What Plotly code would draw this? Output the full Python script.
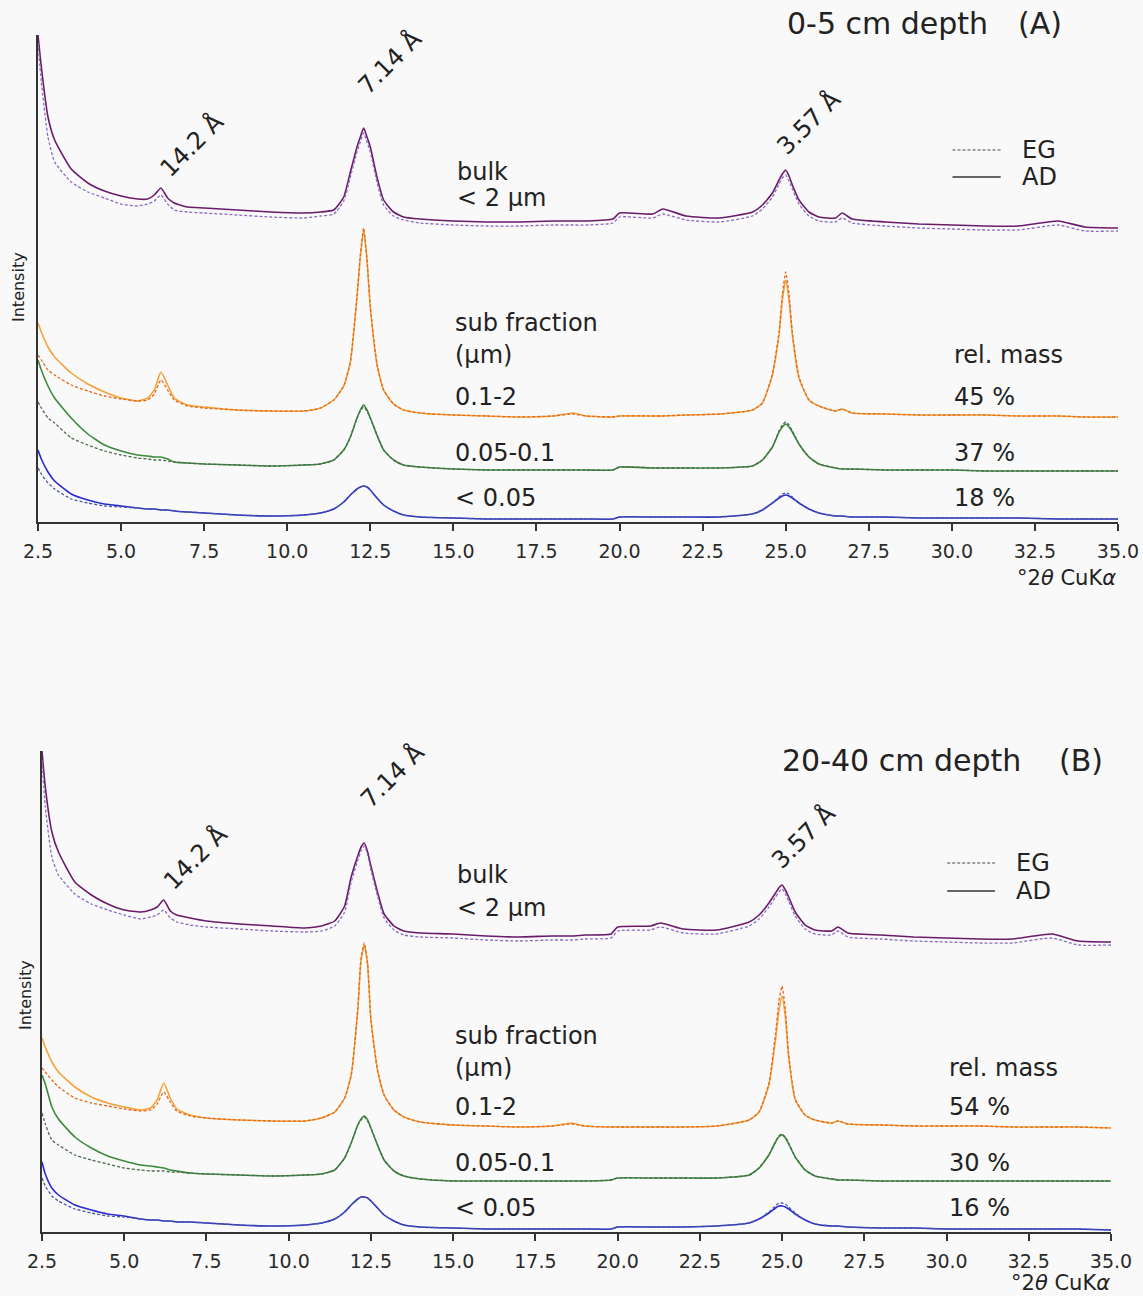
import plotly.graph_objects as go

# ---------------- data ----------------
theta = [2.5, 2.6, 2.8, 3.0, 3.5, 4.0, 4.5, 5.0, 5.5, 5.8,
         6.0, 6.2, 6.4, 6.6, 7.0, 7.5, 8.5, 9.5, 10.5, 11.0,
         11.4, 11.7, 11.9, 12.1, 12.2, 12.3, 12.4, 12.5, 12.7, 12.9,
         13.2, 13.5, 14.0, 15.0, 16.0, 17.0, 18.0, 18.6, 19.0, 19.8,
         20.0, 21.0, 21.3, 22.0, 23.0, 24.0, 24.3, 24.6, 24.8, 24.9,
         25.0, 25.1, 25.2, 25.4, 25.7, 26.0, 26.5, 26.7, 27.0, 28.0,
         29.0, 30.0, 31.0, 32.0, 33.2, 34.0, 35.0]

# Panel A (0-5 cm depth), intensities in arbitrary units (offset stacked)
A_bulk_AD = [487, 455, 405, 382, 353, 339, 331, 326, 323, 323,
             327, 334, 324, 319, 315, 314, 312, 310, 309, 310,
             312, 325, 350, 375, 385, 394, 385, 375, 345, 322,
             310, 305, 303, 301, 300, 300, 301, 301, 301, 303,
             309, 308, 313, 306, 304, 310, 317, 329, 342, 348,
             352, 346, 337, 322, 310, 305, 304, 309, 303, 300,
             298, 297, 296, 296, 301, 295, 294]
A_bulk_EG = [479, 440, 385, 360, 340, 330, 324, 318, 316, 318,
             321, 327, 318, 312, 310, 309, 307, 305, 304, 306,
             308, 321, 345, 370, 380, 389, 380, 370, 340, 317,
             306, 302, 299, 297, 296, 296, 297, 297, 297, 299,
             305, 304, 308, 302, 300, 306, 313, 325, 338, 344,
             347, 341, 333, 318, 306, 301, 300, 304, 299, 296,
             294, 293, 292, 292, 297, 291, 291]
A_or_AD = [199, 190, 175, 165, 149, 138, 130, 124, 121, 124,
           132, 150, 137, 124, 117, 115, 112, 111, 111, 114,
           122, 136, 160, 225, 265, 292, 262, 215, 158, 132,
           118, 112, 109, 107, 106, 105, 106, 109, 106, 105,
           106, 106, 106, 107, 108, 112, 119, 147, 187, 222,
           242, 222, 187, 144, 122, 116, 111, 113, 109, 108,
           107, 107, 107, 106, 106, 105, 105]
A_or_EG = [167, 162, 152, 147, 137, 131, 126, 123, 121, 122,
           128, 142, 132, 122, 116, 114, 112, 111, 111, 114,
           122, 136, 160, 226, 267, 294, 263, 215, 158, 132,
           118, 112, 109, 107, 106, 105, 106, 108, 106, 105,
           106, 106, 106, 107, 108, 112, 119, 148, 190, 228,
           250, 228, 190, 145, 122, 116, 111, 113, 109, 108,
           107, 107, 107, 106, 106, 105, 105]
A_gr_AD = [162, 152, 136, 124, 104, 88, 77, 71, 67, 66,
           65, 65, 63, 60, 59, 58, 57, 56, 57, 58,
           62, 72, 85, 104, 112, 117, 112, 104, 87, 72,
           62, 57, 55, 53, 52, 52, 52, 52, 52, 52,
           55, 54, 54, 54, 54, 56, 62, 75, 90, 95,
           98, 95, 90, 78, 65, 58, 54, 53, 53, 52,
           52, 52, 51, 51, 51, 51, 51]
A_gr_EG = [120, 114, 104, 99, 84, 77, 71, 67, 64, 63,
           62, 62, 61, 60, 59, 58, 57, 56, 57, 58,
           62, 72, 85, 104, 111, 115, 111, 104, 87, 72,
           62, 57, 55, 53, 52, 52, 52, 52, 52, 52,
           55, 54, 54, 54, 54, 56, 62, 75, 91, 97,
           100, 97, 91, 78, 65, 58, 54, 53, 53, 52,
           52, 52, 51, 51, 51, 51, 51]
A_bl_AD = [72, 63, 50, 41, 28, 22, 18, 16, 14, 13,
           13, 12, 12, 11, 10, 9, 7, 6, 7, 9,
           13, 20, 27, 33, 35, 36, 35, 32, 24, 17,
           11, 7, 5, 4, 3, 3, 3, 3, 3, 3,
           5, 5, 5, 5, 5, 8, 12, 19, 24, 26,
           27, 26, 24, 19, 13, 9, 6, 6, 5, 5,
           4, 4, 4, 4, 3, 3, 3]
A_bl_EG = [54, 48, 39, 33, 23, 19, 16, 15, 14, 13,
           13, 12, 12, 11, 10, 9, 7, 6, 7, 9,
           13, 20, 27, 33, 35, 36, 35, 32, 24, 17,
           11, 7, 5, 4, 3, 3, 3, 3, 3, 3,
           5, 5, 5, 5, 5, 8, 12, 19, 25, 28,
           29, 28, 25, 19, 13, 9, 6, 6, 5, 5,
           4, 4, 4, 4, 3, 3, 3]

# Panel B (20-40 cm depth)
B_bulk_AD = [481, 445, 400, 380, 350, 337, 328, 322, 320, 322,
             325, 332, 321, 317, 314, 311, 308, 306, 304, 306,
             311, 326, 355, 376, 385, 389, 380, 366, 340, 318,
             306, 301, 299, 298, 296, 295, 296, 296, 297, 298,
             305, 306, 309, 303, 302, 310, 317, 329, 339, 344,
             347, 342, 335, 320, 307, 302, 301, 305, 299, 297,
             295, 294, 293, 293, 298, 291, 290]
B_bulk_EG = [472, 425, 375, 357, 338, 328, 322, 317, 313, 315,
             317, 322, 314, 310, 307, 305, 303, 301, 300, 301,
             306, 320, 350, 372, 381, 386, 377, 362, 336, 314,
             302, 297, 295, 294, 292, 291, 292, 292, 293, 294,
             301, 302, 305, 299, 298, 306, 313, 325, 335, 340,
             343, 338, 331, 316, 303, 298, 297, 301, 295, 293,
             291, 290, 289, 289, 294, 287, 287]
B_or_AD = [194, 185, 170, 160, 145, 135, 129, 125, 122, 124,
           132, 149, 134, 123, 117, 114, 112, 111, 111, 114,
           120, 134, 157, 222, 272, 287, 267, 212, 162, 137,
           122, 115, 110, 107, 106, 105, 106, 109, 106, 105,
           105, 105, 105, 105, 106, 112, 120, 147, 192, 220,
           236, 215, 175, 132, 117, 112, 109, 111, 108, 107,
           106, 106, 106, 105, 105, 105, 104]
B_or_EG = [164, 160, 152, 145, 134, 129, 126, 123, 121, 122,
           128, 140, 130, 121, 116, 114, 112, 111, 111, 114,
           120, 134, 157, 223, 274, 289, 268, 212, 162, 137,
           122, 115, 110, 107, 106, 105, 106, 108, 106, 105,
           105, 105, 105, 105, 106, 112, 120, 149, 198, 230,
           246, 222, 178, 133, 117, 112, 109, 111, 108, 107,
           106, 106, 106, 105, 105, 105, 104]
B_gr_AD = [157, 148, 125, 113, 95, 84, 76, 71, 67, 66,
           65, 64, 62, 61, 59, 58, 57, 56, 57, 58,
           62, 74, 89, 107, 113, 116, 112, 104, 87, 72,
           61, 56, 53, 51, 51, 51, 51, 51, 51, 52,
           54, 54, 54, 54, 54, 57, 64, 77, 90, 95,
           97, 94, 88, 75, 62, 56, 53, 52, 52, 51,
           51, 51, 51, 51, 51, 51, 51]
B_gr_EG = [119, 108, 92, 87, 77, 72, 68, 64, 62, 61,
           61, 61, 60, 60, 59, 58, 57, 56, 57, 58,
           62, 74, 89, 107, 112, 115, 111, 104, 87, 72,
           61, 56, 53, 51, 51, 51, 51, 51, 51, 52,
           54, 54, 54, 54, 54, 57, 64, 77, 90, 96,
           98, 95, 89, 75, 62, 56, 53, 52, 52, 51,
           51, 51, 51, 51, 51, 51, 51]
B_bl_AD = [70, 58, 44, 37, 27, 22, 18, 16, 13, 12,
           12, 11, 11, 10, 10, 9, 7, 6, 7, 9,
           13, 20, 27, 33, 35, 35, 34, 31, 24, 17,
           11, 7, 5, 4, 3, 3, 3, 3, 3, 3,
           5, 5, 5, 5, 6, 9, 13, 19, 24, 26,
           26, 25, 23, 18, 12, 8, 6, 6, 5, 4,
           4, 3, 3, 3, 3, 3, 2]
B_bl_EG = [54, 46, 36, 31, 23, 19, 16, 15, 13, 12,
           12, 11, 11, 10, 10, 9, 7, 6, 7, 9,
           13, 20, 27, 33, 35, 35, 34, 31, 24, 17,
           11, 7, 5, 4, 3, 3, 3, 3, 3, 3,
           5, 5, 5, 5, 6, 9, 13, 20, 26, 29,
           29, 28, 25, 19, 12, 8, 6, 6, 5, 4,
           4, 3, 3, 3, 3, 3, 2]

tick_vals = [2.5, 5.0, 7.5, 10.0, 12.5, 15.0, 17.5, 20.0, 22.5, 25.0, 27.5, 30.0, 32.5, 35.0]
tick_text = ["2.5", "5.0", "7.5", "10.0", "12.5", "15.0", "17.5", "20.0",
             "22.5", "25.0", "27.5", "30.0", "32.5", "35.0"]

fractions = ["0.1-2", "0.05-0.1", "< 0.05"]
mass_A = ["45 %", "37 %", "18 %"]
mass_B = ["54 %", "30 %", "16 %"]

# ---------------- style ----------------
W, H = 1143, 1296
BG = "#f9f9f9"
FONT = "DejaVu Sans"
TXT = "#222222"
AX = "#333333"
COL = {
    "bulk": ("#6a1b6a", "#8c6cc0"),
    "or": ("#f6a23a", "#e06a20"),
    "gr": ("#3c8a3c", "#4c6c4c"),
    "bl": ("#2a2ad2", "#4a5a9a"),
}

fig = go.Figure()


def add_pair(xa, ya, ad, eg, key):
    c_ad, c_eg = COL[key]
    fig.add_trace(go.Scatter(x=theta, y=ad, mode="lines", xaxis=xa, yaxis=ya,
                             line=dict(color=c_ad, width=1.6, shape="spline", smoothing=0.5),
                             showlegend=False, hoverinfo="skip"))
    fig.add_trace(go.Scatter(x=theta, y=eg, mode="lines", xaxis=xa, yaxis=ya,
                             line=dict(color=c_eg, width=1.3, dash="3px,2px",
                                       shape="spline", smoothing=0.5),
                             showlegend=False, hoverinfo="skip"))


add_pair("x", "y", A_bulk_AD, A_bulk_EG, "bulk")
add_pair("x", "y", A_or_AD, A_or_EG, "or")
add_pair("x", "y", A_gr_AD, A_gr_EG, "gr")
add_pair("x", "y", A_bl_AD, A_bl_EG, "bl")
add_pair("x2", "y2", B_bulk_AD, B_bulk_EG, "bulk")
add_pair("x2", "y2", B_or_AD, B_or_EG, "or")
add_pair("x2", "y2", B_gr_AD, B_gr_EG, "gr")
add_pair("x2", "y2", B_bl_AD, B_bl_EG, "bl")

# axes geometry (pixels -> paper fractions)
A_px = dict(l=38, r=1118, t=35, b=522)
B_px = dict(l=42, r=1111, t=751, b=1232)


def xdom(p):
    return [p["l"] / W, p["r"] / W]


def ydom(p):
    return [1 - p["b"] / H, 1 - p["t"] / H]


xcommon = dict(range=[2.5, 35], tickvals=tick_vals, ticktext=tick_text, ticks="outside",
               ticklen=7, tickwidth=1.5, tickcolor=AX, showline=True, linecolor=AX,
               linewidth=1.5, showgrid=False, zeroline=False, automargin=False,
               tickfont=dict(family=FONT, size=19, color="#2a2a2a"), ticklabelstandoff=4)
ycommon = dict(showline=True, linecolor=AX, linewidth=1.5, showgrid=False, zeroline=False,
               showticklabels=False, ticks="", automargin=False)

fig.update_layout(
    width=W, height=H, paper_bgcolor=BG, plot_bgcolor=BG,
    margin=dict(l=0, r=0, t=0, b=0, autoexpand=False),
    xaxis=dict(domain=xdom(A_px), anchor="y", **xcommon),
    yaxis=dict(domain=ydom(A_px), anchor="x", range=[0, 487], **ycommon),
    xaxis2=dict(domain=xdom(B_px), anchor="y2", **xcommon),
    yaxis2=dict(domain=ydom(B_px), anchor="x2", range=[0, 481], **ycommon),
    showlegend=False,
)

ann = []


def txt(xr, yr, x, y, s, size=24, xanchor="left", angle=0):
    ann.append(dict(xref=xr, yref=yr, x=x, y=y, text=s, showarrow=False,
                    xanchor=xanchor, yanchor="middle", textangle=angle,
                    font=dict(family=FONT, size=size, color=TXT)))


def ptxt(px, py, s, size, xanchor="left", angle=0):
    # text placed in page (paper) space, outside the data ranges
    ann.append(dict(xref="paper", yref="paper", x=px / W, y=1 - py / H, text=s,
                    showarrow=False, xanchor=xanchor, yanchor="middle", textangle=angle,
                    font=dict(family=FONT, size=size, color=TXT)))


def panel_text(xr, yr, title, tag, title_px, tag_px, title_py, lab, masses, peaks, legend_y,
               int_pxy, xl_pxy):
    ptxt(title_px, title_py, title, 30)
    ptxt(tag_px, title_py, tag, 30)
    for (px, py, s) in peaks:
        txt(xr, yr, px, py, s, size=24, xanchor="center", angle=-45)
    txt(xr, yr, 15.05, lab[0], "bulk")
    txt(xr, yr, 15.05, lab[1], "&lt; 2 µm")
    txt(xr, yr, 15.0, lab[2], "sub fraction")
    txt(xr, yr, 15.0, lab[3], "(µm)")
    txt(xr, yr, 30.0, lab[3], "rel. mass")
    for i, f in enumerate(fractions):
        txt(xr, yr, 15.0, lab[4 + i], f.replace("<", "&lt;"))
        txt(xr, yr, 30.0, lab[4 + i], masses[i])
    # legend keys
    txt(xr, yr, 32.05, legend_y[0], "EG", size=24)
    txt(xr, yr, 32.05, legend_y[1], "AD", size=24)
    fig.add_shape(type="line", xref=xr, yref=yr, x0=30.02, x1=31.47, y0=legend_y[0], y1=legend_y[0],
                  line=dict(color="#444444", width=1.2, dash="3px,2px"))
    fig.add_shape(type="line", xref=xr, yref=yr, x0=30.02, x1=31.47, y0=legend_y[1], y1=legend_y[1],
                  line=dict(color="#333333", width=1.5))
    ptxt(int_pxy[0], int_pxy[1], "Intensity", 16, xanchor="center", angle=-90)
    ptxt(xl_pxy[0], xl_pxy[1], "°2<i>θ</i> CuK<i>α</i>", 21, xanchor="right")


panel_text("x", "y", "0-5 cm depth", "(A)", 785, 1016, 24,
           [350, 324, 199, 167, 125, 69, 24],
           mass_A,
           [(7.14, 377, "14.2 Å"), (13.1, 460, "7.14 Å"), (25.69, 399, "3.57 Å")],
           (372, 345), (18, 287), (1118, 578))
panel_text("x2", "y2", "20-40 cm depth", "(B)", 780, 1057, 760,
           [357, 324, 196, 164, 125, 69, 24],
           mass_B,
           [(7.15, 375, "14.2 Å"), (13.14, 457, "7.14 Å"), (25.64, 396, "3.57 Å")],
           (369, 341), (25, 995), (1112, 1283))

fig.update_layout(annotations=ann)
fig.write_html("out.html")
